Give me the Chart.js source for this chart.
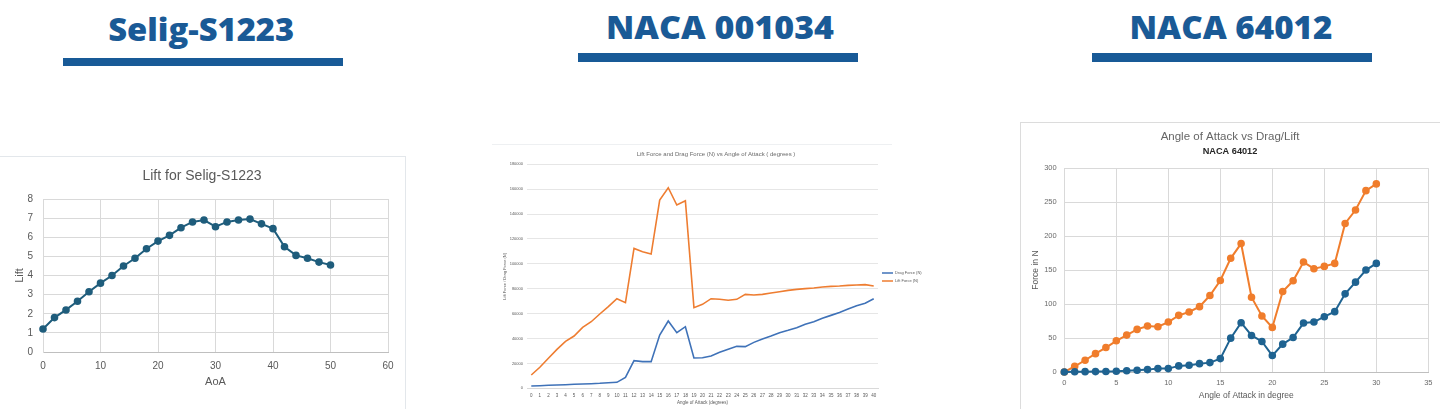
<!DOCTYPE html>
<html>
<head>
<meta charset="utf-8">
<title>Airfoil lift and drag</title>
<script src="https://cdn.jsdelivr.net/npm/chart.js@4.4.1/dist/chart.umd.min.js"></script>
<style>
  html, body { margin: 0; padding: 0; background: #ffffff; }
  body { position: relative; width: 1440px; height: 409px; overflow: hidden; }
  .head {
    position: absolute; font-family: "Open Sans", sans-serif; font-weight: 800;
    font-size: 31px; line-height: 31px; color: #1a5a96; white-space: nowrap;
    transform-origin: center center;
  }
  .rule { position: absolute; background: #185a97; }
  .frame { position: absolute; box-sizing: border-box; }
  canvas { position: absolute; }
</style>
</head>
<body>

<div class="head" data-cx="201" data-w="186" style="top:14px">Selig-S1223</div>
<div class="head" data-cx="720" data-w="228" style="top:12px">NACA 001034</div>
<div class="head" data-cx="1231" data-w="203" style="top:12px">NACA 64012</div>
<div class="rule" style="left:63px; top:58px; width:280px; height:8px"></div>
<div class="rule" style="left:578px; top:53px; width:280px; height:9px"></div>
<div class="rule" style="left:1092px; top:53px; width:280px; height:9px"></div>

<div class="frame" style="left:0; top:156px; width:406px; height:260px; border-top:1px solid #e3e7eb; border-right:1px solid #e3e7eb"></div>
<div class="frame" style="left:492px; top:144px; width:400px; height:270px; border-top:1px solid #eef0f2"></div>
<div class="frame" style="left:1020px; top:122px; width:430px; height:300px; border-top:1px solid #dcdcdc; border-left:1px solid #dcdcdc"></div>

<canvas id="c1" width="404" height="252" style="left:0; top:157px"></canvas>
<canvas id="c2" width="448" height="264" style="left:492px; top:145px"></canvas>
<canvas id="c3" width="418" height="286" style="left:1021px; top:123px"></canvas>

<script>
// ---- Selig-S1223: lift vs angle of attack ----
const seligAoA  = [0, 2, 4, 6, 8, 10, 12, 14, 16, 18, 20, 22, 24, 26, 28, 30, 32, 34, 36, 38, 40, 42, 44, 46, 48, 50];
const seligLift = [1.2, 1.8, 2.2, 2.65, 3.15, 3.6, 4.0, 4.5, 4.9, 5.4, 5.8, 6.1, 6.5, 6.8, 6.9, 6.55, 6.8, 6.9, 6.95, 6.7, 6.45, 5.5, 5.05, 4.9, 4.7, 4.55];

// ---- NACA 001034: lift and drag force (N) per degree ----
const nacaAngles = ['0','1','2','3','4','5','6','7','8','9','10','11','12','13','14','15','16','17','18','19','20',
                    '21','22','23','24','25','26','27','28','29','30','31','32','33','34','35','36','37','38','39','40'];
const nacaDrag = [1900, 2100, 2400, 2700, 2900, 3200, 3500, 3700, 4000, 4500, 4800, 8800, 22200, 21400, 21400, 42800, 54100, 44700, 49500, 24400, 24600,
                  26000, 28900, 31300, 33700, 33500, 36900, 39600, 42000, 44700, 46600, 48700, 51400, 53500, 56200, 58600, 61000, 63700, 66400, 68300, 72000];
const nacaLift = [10700, 16900, 24100, 31300, 37700, 42000, 49000, 53500, 59700, 65600, 72000, 68800, 112400, 109800, 107900, 151300, 161200, 147300, 150700, 64800, 67500,
                  72000, 71500, 70700, 71500, 75500, 75000, 75500, 76600, 77600, 78700, 79500, 80100, 80600, 81400, 81900, 82200, 82700, 83000, 83300, 82200];

// ---- NACA 64012: drag and lift in N ----
const n64Angle = [0, 1, 2, 3, 4, 5, 6, 7, 8, 9, 10, 11, 12, 13, 14, 15, 16, 17, 18, 19, 20, 21, 22, 23, 24, 25, 26, 27, 28, 29, 30];
const n64Drag  = [0, 0.3, 0.5, 0.6, 0.8, 1.0, 1.8, 2.5, 3.5, 5, 5, 9, 10, 12.3, 13.8, 19.7, 49.8, 72.5, 53.8, 44.9, 24.2, 41, 50.8, 72, 73.5, 81.4, 88.8, 115, 132.2, 150, 159.8];
const n64Lift  = [0, 8.4, 17.3, 27, 36, 45.9, 54.3, 62.7, 67.6, 66.6, 73.5, 83.4, 88.3, 96.2, 112.5, 134.7, 167.3, 189, 110, 82.4, 65.6, 118.4, 134.2, 161.8, 152, 155.4, 159.8, 218.6, 238.3, 266.9, 276.8];

Chart.defaults.animation = false;
Chart.defaults.responsive = false;
Chart.defaults.font.family = '"Liberation Sans", sans-serif';
Chart.defaults.color = '#595959';

const xy = (xs, ys) => xs.map((x, i) => ({ x: x, y: ys[i] }));

// Plot-area edges and y-title centre, in canvas pixels, for each panel.
const box1 = { left: 43, right: 388, yTitleX: 19.5 };
const box2 = { left: 35, right: 386, yTitleX: 13 };
const box3 = { left: 43.3, right: 408.3, yTitleX: 15 };

// Keep the side paddings equal (so the chart title stays centred on the canvas)
// while the plot's right edge lands on box.right.
function frame(chart, box) {
  for (let i = 0; i < 2; i++) {
    const pad = chart.options.layout.padding;
    const r = pad.right + chart.chartArea.right - box.right;
    pad.right = r;
    pad.left = r;
    const yt = chart.options.scales.y.title;
    yt.padding.top = box.yTitleX - r - yt.font.size * 0.6;
    chart.update('none');
  }
}
const yWidth = box => s => { s.width = box.left - s.chart.options.layout.padding.left; };

// Headings: scale each to its measured width.
document.querySelectorAll('.head').forEach(el => {
  const w = el.getBoundingClientRect().width;
  const k = Number(el.dataset.w) / w;
  el.style.left = (Number(el.dataset.cx) - w / 2) + 'px';
  el.style.transform = 'scaleX(' + k.toFixed(3) + ')';
});

// ---------- chart 1 ----------
const c1 = new Chart(document.getElementById('c1'), {
  type: 'line',
  data: {
    datasets: [{
      data: xy(seligAoA, seligLift),
      borderColor: '#1f5d7c', backgroundColor: '#1f5d7c',
      borderWidth: 2, pointRadius: 2.8, pointHoverRadius: 2.8, tension: 0, clip: false
    }]
  },
  options: {
    layout: { padding: { left: 0, top: 0, right: 16, bottom: 0 } },
    plugins: {
      legend: { display: false },
      tooltip: { enabled: false },
      title: { display: true, text: 'Lift for Selig-S1223', color: '#595959',
               font: { size: 14, weight: 'normal' }, padding: { top: 11, bottom: 14.2 } }
    },
    scales: {
      x: {
        type: 'linear', min: 0, max: 60,
        ticks: { stepSize: 10, padding: 8, font: { size: 10 }, color: '#595959' },
        grid: { color: '#d9d9d9', drawTicks: false },
        border: { color: '#bfbfbf' },
        title: { display: true, text: 'AoA', font: { size: 11 }, color: '#595959', padding: { top: 0, bottom: 20 } },
        afterFit: s => { s.height = 57; }
      },
      y: {
        min: 0, max: 8,
        ticks: { stepSize: 1, padding: 10, font: { size: 10 }, color: '#595959' },
        grid: { color: '#d9d9d9', drawTicks: false },
        border: { color: '#d9d9d9' },
        title: { display: true, text: 'Lift', font: { size: 11 }, color: '#595959', padding: { top: 13, bottom: 0 } },
        afterFit: yWidth(box1)
      }
    }
  }
});
frame(c1, box1);

// ---------- chart 2 ----------
const c2 = new Chart(document.getElementById('c2'), {
  type: 'line',
  data: {
    labels: nacaAngles,
    datasets: [
      { label: 'Drag Force (N)', data: nacaDrag, borderColor: '#3f72b8', backgroundColor: '#3f72b8',
        borderWidth: 1.6, pointRadius: 0, tension: 0 },
      { label: 'Lift Force (N)', data: nacaLift, borderColor: '#ee7d31', backgroundColor: '#ee7d31',
        borderWidth: 1.6, pointRadius: 0, tension: 0 }
    ]
  },
  options: {
    layout: { padding: { left: 0, top: 0, right: 0, bottom: 0 } },
    plugins: {
      tooltip: { enabled: false },
      title: { display: true, text: 'Lift Force and Drag Force (N) vs Angle of Attack ( degrees )', color: '#6b6b6b',
               font: { size: 6, weight: 'normal' }, padding: { top: 5.7, bottom: 6.4 } },
      legend: {
        position: 'right',
        labels: { usePointStyle: true, pointStyle: 'line', pointStyleWidth: 11, padding: 4,
                  font: { size: 4 }, color: '#595959' }
      }
    },
    scales: {
      x: {
        type: 'category', offset: true,
        ticks: { autoSkip: false, maxRotation: 0, padding: 4.5, font: { size: 4.5 }, color: '#595959' },
        grid: { display: false, drawTicks: false },
        border: { color: '#d9d9d9' },
        title: { display: true, text: 'Angle of Attack (degrees)', font: { size: 4.5 }, color: '#595959', padding: { top: 0, bottom: 3.5 } },
        afterFit: s => { s.height = 20.7; }
      },
      y: {
        min: 0, max: 180000,
        ticks: { stepSize: 20000, padding: 4, font: { size: 4 }, color: '#595959', callback: v => String(v) },
        grid: { color: '#e6e6e6', drawTicks: false },
        border: { display: false },
        title: { display: true, text: 'Lift Force / Drag Force (N)', font: { size: 4 }, color: '#595959', padding: { top: 10.6, bottom: 0 } },
        afterFit: yWidth(box2)
      }
    }
  }
});
frame(c2, box2);

// ---------- chart 3 ----------
const c3 = new Chart(document.getElementById('c3'), {
  type: 'line',
  data: {
    datasets: [
      { label: 'Drag', data: xy(n64Angle, n64Drag), borderColor: '#1f6391', backgroundColor: '#1f6391',
        borderWidth: 2, pointRadius: 2.8, pointHoverRadius: 2.8, tension: 0, clip: false },
      { label: 'Lift', data: xy(n64Angle, n64Lift), borderColor: '#f07d2c', backgroundColor: '#f07d2c',
        borderWidth: 2, pointRadius: 2.8, pointHoverRadius: 2.8, tension: 0, clip: false }
    ]
  },
  options: {
    layout: { padding: { left: 0, top: 0, right: 10, bottom: 0 } },
    plugins: {
      legend: { display: false },
      tooltip: { enabled: false },
      title: { display: true, text: 'Angle of Attack vs Drag/Lift', color: '#666666',
               font: { size: 11.5, weight: 'normal' }, padding: { top: 7.3, bottom: 0 } },
      subtitle: { display: true, text: 'NACA 64012', color: '#262626',
                  font: { size: 9.2, weight: 'bold' }, padding: { top: 1.4, bottom: 11.6 } }
    },
    scales: {
      x: {
        type: 'linear', min: 0, max: 35,
        ticks: { stepSize: 5, padding: 6.5, font: { size: 7.5 }, color: '#6b6b6b' },
        grid: { color: '#d9d9d9', drawTicks: false },
        border: { color: '#bfbfbf' },
        title: { display: true, text: 'Angle of Attack in degree', font: { size: 8.5 }, color: '#595959', padding: { top: 0, bottom: 8 } },
        afterFit: s => { s.height = 37; }
      },
      y: {
        min: 0, max: 300,
        ticks: { stepSize: 50, padding: 7.6, font: { size: 7.5 }, color: '#6b6b6b' },
        grid: { color: '#d9d9d9', drawTicks: false },
        border: { color: '#d9d9d9' },
        title: { display: true, text: 'Force in N', font: { size: 8.5 }, color: '#595959', padding: { top: 10, bottom: 0 } },
        afterFit: yWidth(box3)
      }
    }
  }
});
frame(c3, box3);
</script>
</body>
</html>
